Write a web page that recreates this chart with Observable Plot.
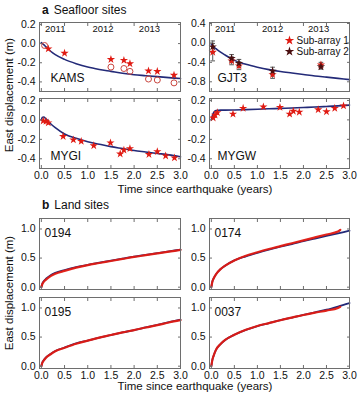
<!DOCTYPE html>
<html><head><meta charset="utf-8">
<script src="https://cdn.jsdelivr.net/npm/d3@7"></script>
<script src="https://cdn.jsdelivr.net/npm/@observablehq/plot@0.6"></script>
<style>
body{margin:0;background:#fff;font-family:"Liberation Sans",Arial,Helvetica,sans-serif;color:#111;}
#wrap{position:relative;width:360px;height:400px;overflow:hidden;background:#fff;}
.abs{position:absolute;white-space:nowrap;line-height:1;}
.title{font-size:12px;}
.title b{margin-right:5px;}
.xlab{font-size:11.5px;transform:translateX(-50%);}
.ylab{font-size:11.5px;transform:translate(-50%,-50%) rotate(-90deg);}
</style></head>
<body><div id="wrap"></div>
<script>
// ---------- data ----------
const xTicks = [0, 0.5, 1, 1.5, 2, 2.5, 3];
const yearT = [0.3, 1.33, 2.33];
const yearLabels = ["2011", "2012", "2013"];
const seriesNames = ["Sub-array 1", "Sub-array 2"];

// model curve sample times (seafloor)
const modelT = [0, 0.02, 0.05, 0.1, 0.2, 0.3, 0.5, 0.75, 1.0, 1.25, 1.5, 1.75, 2.0, 2.25, 2.5, 2.75, 3.0];
const kamsModel = [0.01, 0.0, -0.01, -0.035, -0.08, -0.115, -0.165, -0.21, -0.245, -0.27, -0.29, -0.31, -0.325, -0.335, -0.345, -0.355, -0.365];
const mygiModel = [0, 0.025, 0.03, 0.01, -0.04, -0.08, -0.145, -0.19, -0.225, -0.25, -0.275, -0.295, -0.315, -0.33, -0.345, -0.36, -0.38];
const gjt3Model = [-0.03, -0.05, -0.08, -0.12, -0.19, -0.25, -0.36, -0.44, -0.5, -0.55, -0.59, -0.62, -0.65, -0.68, -0.705, -0.73, -0.755];
const mygwModel = [0, 0.04, 0.075, 0.095, 0.1, 0.1, 0.102, 0.106, 0.11, 0.114, 0.118, 0.122, 0.127, 0.132, 0.138, 0.144, 0.152];

// KAMS
const kamsStarT = [0.15, 0.5, 1.5, 1.78, 1.91, 2.31, 2.5, 2.86];
const kamsStar = [-0.055, -0.1, -0.165, -0.175, -0.21, -0.285, -0.29, -0.33];
const kamsCircT = [0.07, 1.5, 1.78, 1.91, 2.31, 2.5, 2.86];
const kamsCirc = [-0.02, -0.245, -0.26, -0.29, -0.37, -0.38, -0.41];
// MYGI
const mygiT = [0.04, 0.1, 0.15, 0.47, 0.69, 0.86, 1.13, 1.49, 1.7, 1.78, 1.91, 2.32, 2.5, 2.68, 2.87];
const mygiStar = [-0.01, -0.015, -0.03, -0.17, -0.205, -0.22, -0.265, -0.235, -0.35, -0.31, -0.295, -0.355, -0.325, -0.37, -0.39];
// GJT3
const gjt3T = [0.03, 0.44, 0.6, 1.33, 2.38];
const gjt3Sub1 = [-0.19, -0.37, -0.47, -0.65, -0.45];
const gjt3Sub2 = [-0.08, -0.32, -0.42, -0.58, -0.49];
const gjt3Err1 = [0.18, 0.08, 0.08, 0.08, 0.05];
const gjt3Err2 = [0.12, 0.08, 0.08, 0.08, 0.05];
// MYGW
const mygwT = [0.04, 0.08, 0.13, 0.47, 0.69, 1.13, 1.49, 1.7, 1.78, 1.91, 2.32, 2.5, 2.68, 2.87];
const mygwStar = [0.02, 0.05, 0.075, 0.06, 0.12, 0.135, 0.13, 0.06, 0.09, 0.08, 0.105, 0.085, 0.12, 0.145];

// land sites
const landT = [0, 0.02, 0.05, 0.1, 0.2, 0.3, 0.5, 0.75, 1.0, 1.25, 1.5, 1.75, 2.0, 2.25, 2.5, 2.75, 3.0];
const m0194 = [0, 0.06, 0.1, 0.145, 0.205, 0.245, 0.295, 0.345, 0.385, 0.42, 0.455, 0.49, 0.525, 0.555, 0.585, 0.615, 0.645];
const d0194 = [0, 0.05, 0.09, 0.13, 0.19, 0.23, 0.28, 0.335, 0.38, 0.415, 0.45, 0.485, 0.52, 0.55, 0.58, 0.61, 0.64];
const m0174 = [0, 0.09, 0.15, 0.22, 0.31, 0.37, 0.46, 0.53, 0.59, 0.645, 0.695, 0.74, 0.79, 0.835, 0.88, 0.925, 0.97];
const d0174T = [0, 0.02, 0.05, 0.1, 0.2, 0.3, 0.5, 0.75, 1.0, 1.25, 1.5, 1.75, 2.0, 2.25, 2.5, 2.75, 2.8];
const d0174 = [0, 0.09, 0.15, 0.22, 0.31, 0.37, 0.46, 0.54, 0.6, 0.655, 0.705, 0.755, 0.805, 0.855, 0.905, 0.955, 0.985];
const m0195 = [0, 0.06, 0.1, 0.15, 0.21, 0.26, 0.32, 0.39, 0.44, 0.49, 0.535, 0.58, 0.62, 0.665, 0.71, 0.755, 0.8];
const d0195 = [0, 0.055, 0.095, 0.145, 0.205, 0.255, 0.315, 0.385, 0.44, 0.49, 0.535, 0.58, 0.62, 0.665, 0.705, 0.75, 0.79];
const m0037 = [0, 0.1, 0.18, 0.28, 0.38, 0.45, 0.54, 0.625, 0.69, 0.74, 0.79, 0.835, 0.88, 0.925, 0.97, 1.025, 1.085];
const d0037T = [0, 0.02, 0.05, 0.1, 0.2, 0.3, 0.5, 0.75, 1.0, 1.25, 1.5, 1.75, 2.0, 2.25, 2.5, 2.75, 2.8];
const d0037 = [0, 0.1, 0.18, 0.28, 0.38, 0.45, 0.54, 0.625, 0.69, 0.74, 0.79, 0.835, 0.88, 0.92, 0.955, 1.0, 1.02];

// ---------- helpers ----------
const RED = "#e01a12", DARK = "#4a0f10", BLUE = "#232a78", CIRC = "#c9463f", FRAME = "#6e6e6e";
const FONT = '"Liberation Sans", Arial, Helvetica, sans-serif';
const zip = (xs, ys, extra = {}) => xs.map((x, i) => {
  const o = {t: x, v: ys[i]};
  for (const k in extra) o[k] = extra[k][i];
  return o;
});
const fmt = d => d.toFixed(1);
const xDomain = [-0.04, 3.0];
const wrap = document.getElementById("wrap");

function panel({left, top, fw, fh, ydom, yticks, xlabels, marks}) {
  const mL = 28, mR = 4, mT = 4, mB = xlabels ? 16 : 4;
  const p = Plot.plot({
    width: fw + mL + mR, height: fh + mT + mB,
    marginLeft: mL, marginRight: mR, marginTop: mT, marginBottom: mB,
    style: {fontFamily: FONT, fontSize: "10.5px", color: "#111", background: "transparent", overflow: "visible"},
    x: {domain: xDomain, label: null},
    y: {domain: ydom, label: null},
    marks: [
      ...marks,
      Plot.frame({stroke: FRAME}),
      Plot.axisX({ticks: xTicks, anchor: "bottom", tickSize: -3, text: null, stroke: FRAME, label: null}),
      Plot.axisX({ticks: xTicks, anchor: "top", tickSize: -3, text: null, stroke: FRAME, label: null}),
      Plot.axisY({ticks: yticks, anchor: "left", tickSize: -3, text: null, stroke: FRAME, label: null}),
      Plot.axisY({ticks: yticks, anchor: "right", tickSize: -3, text: null, stroke: FRAME, label: null}),
      xlabels ? Plot.axisX({ticks: xTicks, anchor: "bottom", tickSize: 0, tickPadding: 3, tickFormat: fmt, label: null}) : null,
      Plot.axisY({ticks: yticks, anchor: "left", tickSize: 0, tickPadding: 4, tickFormat: fmt, label: null})
    ]
  });
  const d = document.createElement("div");
  d.className = "abs";
  d.style.left = (left - mL) + "px";
  d.style.top = (top - mT) + "px";
  d.appendChild(p);
  wrap.appendChild(d);
}

const years = zip(yearT, yearLabels);
const yearMark = Plot.text(years, {x: "t", text: "v", frameAnchor: "top", lineAnchor: "middle", dy: 6, fontSize: 9.5});
const siteLabel = (name, anchor, dx, dy) => Plot.text([name], {frameAnchor: anchor, dx, dy, fontSize: 12, textAnchor: "start"});
const modelLine = (ys) => Plot.line(zip(modelT, ys), {x: "t", y: "v", stroke: BLUE, strokeWidth: 1.6, curve: "monotone-x"});
const stars = (data, fill) => Plot.dot(data, {x: "t", y: "v", symbol: "star", fill, stroke: "none", r: 2.6});

const seaDom = [-0.5, 0.22];
const seaTicks = [-0.4, -0.2, 0, 0.2];
const FW = 141;
const L1 = 39, L2 = 209;

// KAMS
panel({left: L1, top: 22, fw: FW, fh: 69, ydom: seaDom, yticks: seaTicks, xlabels: false, marks: [
  yearMark,
  modelLine(kamsModel),
  Plot.dot(zip(kamsCircT, kamsCirc), {x: "t", y: "v", symbol: "circle", stroke: CIRC, fill: "none", r: 3, strokeWidth: 1}),
  stars(zip(kamsStarT, kamsStar), RED),
  siteLabel("KAMS", "bottom-left", 11, -10)
]});
// GJT3
const gjt1 = zip(gjt3T, gjt3Sub1, {e: gjt3Err1});
const gjt2 = zip(gjt3T, gjt3Sub2, {e: gjt3Err2});
const errBars = (data) => [
  Plot.ruleX(data, {x: "t", y1: d => d.v - d.e, y2: d => d.v + d.e, stroke: "#555", strokeWidth: 1}),
  Plot.link(data, {x1: d => d.t - 0.05, x2: d => d.t + 0.05, y1: d => d.v - d.e, y2: d => d.v - d.e, stroke: "#555"}),
  Plot.link(data, {x1: d => d.t - 0.05, x2: d => d.t + 0.05, y1: d => d.v + d.e, y2: d => d.v + d.e, stroke: "#555"})
];
panel({left: L2, top: 22, fw: 140, fh: 69, ydom: [-1.0, 0.42], yticks: [-0.8, -0.4, 0, 0.4], xlabels: false, marks: [
  yearMark,
  modelLine(gjt3Model),
  ...errBars(gjt1), ...errBars(gjt2),
  stars(gjt1, RED),
  stars(gjt2, DARK),
  Plot.dot([seriesNames[0]], {frameAnchor: "top-left", dx: 80, dy: 18, symbol: "star", fill: RED, r: 3}),
  Plot.dot([seriesNames[1]], {frameAnchor: "top-left", dx: 80, dy: 29, symbol: "star", fill: DARK, r: 3}),
  Plot.text([seriesNames[0]], {frameAnchor: "top-left", dx: 87, dy: 18, textAnchor: "start", lineAnchor: "middle", fontSize: 10}),
  Plot.text([seriesNames[1]], {frameAnchor: "top-left", dx: 87, dy: 29, textAnchor: "start", lineAnchor: "middle", fontSize: 10}),
  siteLabel("GJT3", "bottom-left", 8, -10)
]});
// MYGI
panel({left: L1, top: 98, fw: FW, fh: 70, ydom: seaDom, yticks: seaTicks, xlabels: true, marks: [
  modelLine(mygiModel),
  stars(zip(mygiT, mygiStar), RED),
  siteLabel("MYGI", "bottom-left", 11, -9)
]});
// MYGW
panel({left: L2, top: 98, fw: 140, fh: 70, ydom: seaDom, yticks: seaTicks, xlabels: true, marks: [
  modelLine(mygwModel),
  stars(zip(mygwT, mygwStar), RED),
  siteLabel("MYGW", "bottom-left", 8, -9)
]});

// land
const landDom = [-0.04, 1.18];
const landTicks = [0, 0.5, 1.0];
const landMarks = (name, m, dT, d) => [
  Plot.line(zip(landT, m), {x: "t", y: "v", stroke: BLUE, strokeWidth: 1.8, curve: "monotone-x"}),
  Plot.line(zip(dT, d), {x: "t", y: "v", stroke: RED, strokeWidth: 2.2, strokeOpacity: 0.95, curve: "monotone-x"}),
  siteLabel(name, "top-left", 5, 10)
];
panel({left: L1, top: 218, fw: FW, fh: 71, ydom: landDom, yticks: landTicks, xlabels: false, marks: landMarks("0194", m0194, landT, d0194)});
panel({left: L2, top: 218, fw: 140, fh: 71, ydom: landDom, yticks: landTicks, xlabels: false, marks: landMarks("0174", m0174, d0174T, d0174)});
panel({left: L1, top: 297, fw: FW, fh: 71, ydom: landDom, yticks: landTicks, xlabels: true, marks: landMarks("0195", m0195, landT, d0195)});
panel({left: L2, top: 297, fw: 140, fh: 71, ydom: landDom, yticks: landTicks, xlabels: true, marks: landMarks("0037", m0037, d0037T, d0037)});

// texts
const addText = (html, cls, x, y) => {
  const d = document.createElement("div");
  d.className = "abs " + cls;
  d.style.left = x + "px"; d.style.top = y + "px";
  d.innerHTML = html;
  wrap.appendChild(d);
};
addText("<b>a</b>Seafloor sites", "title", 42, 4);
addText("<b>b</b>Land sites", "title", 42, 199);
addText("Time since earthquake (years)", "xlab", 195, 184);
addText("Time since earthquake (years)", "xlab", 195, 381);
addText("East displacement (m)", "ylab", 10, 95);
addText("East displacement (m)", "ylab", 10, 293);
</script>
</body></html>
